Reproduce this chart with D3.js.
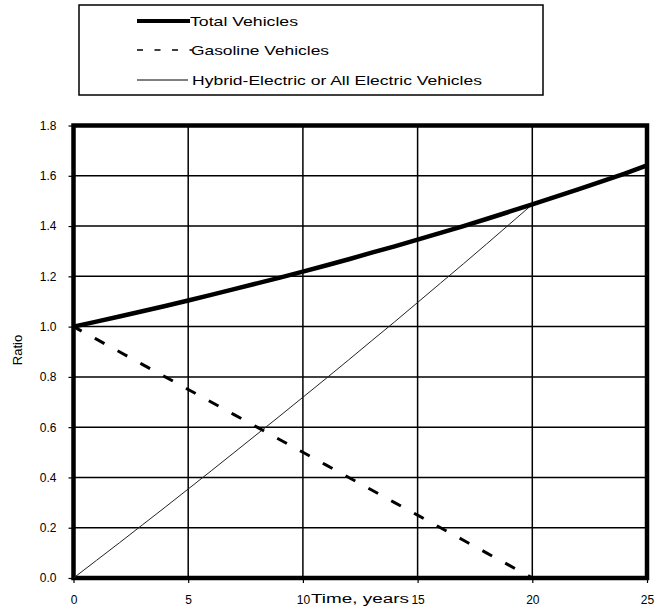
<!DOCTYPE html>
<html><head><meta charset="utf-8">
<script src="https://cdn.jsdelivr.net/npm/d3@7"></script>
<style>body{margin:0;background:#fff;} svg{display:block;font-family:"Liberation Sans",Arial,sans-serif;}</style>
</head><body>
<svg id="c" width="661" height="609"></svg>
<script>
const years = d3.range(0, 26);
const totalVehicles = [1.000,1.020,1.040,1.061,1.082,1.104,1.126,1.149,1.172,1.195,1.219,1.243,1.268,1.294,1.319,1.346,1.373,1.400,1.428,1.457,1.486,1.516,1.546,1.577,1.608,1.641];
const gasolineYears = d3.range(0, 21);
const gasolineVehicles = [1.00,0.95,0.90,0.85,0.80,0.75,0.70,0.65,0.60,0.55,0.50,0.45,0.40,0.35,0.30,0.25,0.20,0.15,0.10,0.05,0.00];
const hybridYears = d3.range(0, 21);
const hybridVehicles = [0.000,0.070,0.140,0.211,0.282,0.354,0.426,0.499,0.572,0.645,0.719,0.793,0.868,0.944,1.019,1.096,1.173,1.250,1.328,1.407,1.486];
const xTicks = [0,5,10,15,20,25];
const yTicks = [0,0.2,0.4,0.6,0.8,1.0,1.2,1.4,1.6,1.8];
const seriesNames = ["Total Vehicles","Gasoline Vehicles","Hybrid-Electric or All Electric Vehicles"];

const svg = d3.select("#c");
const x = d3.scaleLinear().domain([0,25]).range([73.5,647]);
const y = d3.scaleLinear().domain([0,1.8]).range([578,125.5]);

// grid
const g = svg.append("g");
g.selectAll(".hg").data(yTicks.slice(1,-1)).join("line")
  .attr("x1",x(0)).attr("x2",x(25)).attr("y1",d=>y(d)).attr("y2",d=>y(d))
  .attr("stroke","#000").attr("stroke-width",1.5);
g.selectAll(".vg").data(xTicks.slice(1,-1)).join("line")
  .attr("y1",y(0)).attr("y2",y(1.8)).attr("x1",d=>x(d)).attr("x2",d=>x(d))
  .attr("stroke","#000").attr("stroke-width",1.5);

// axes
const xAxis = d3.axisBottom(x).tickValues(xTicks).tickSize(5).tickPadding(12)
  .tickFormat(d3.format("d"));
const yAxis = d3.axisLeft(y).tickValues(yTicks).tickSize(5).tickPadding(12)
  .tickFormat(d3.format(".1f"));
const xa = svg.append("g").attr("transform",`translate(0,${y(0)})`).call(xAxis);
const ya = svg.append("g").attr("transform",`translate(${x(0)},0)`).call(yAxis);
[xa,ya].forEach(a=>{
  a.select(".domain").remove();
  a.selectAll("line").attr("stroke","#000").attr("stroke-width",1.2);
  a.selectAll("text").attr("fill","#000").style("font-size","12px");
});
xa.selectAll("text").attr("dy","0.75em");

// frame
svg.append("rect").attr("x",x(0)).attr("y",y(1.8)).attr("width",x(25)-x(0)).attr("height",y(0)-y(1.8))
  .attr("fill","none").attr("stroke","#000").attr("stroke-width",4.5);

// series
const line = d3.line().x(d=>x(d[0])).y(d=>y(d[1]));
svg.append("path").datum(hybridYears.map((t,i)=>[t,hybridVehicles[i]]))
  .attr("d",line).attr("fill","none").attr("stroke","#222").attr("stroke-width",1);
svg.append("path").datum(gasolineYears.map((t,i)=>[t,gasolineVehicles[i]]))
  .attr("d",line).attr("fill","none").attr("stroke","#000").attr("stroke-width",3)
  .attr("stroke-dasharray","11,15").attr("stroke-dashoffset",1.7);
svg.append("path").datum(years.map((t,i)=>[t,totalVehicles[i]]))
  .attr("d",line).attr("fill","none").attr("stroke","#000").attr("stroke-width",4.5);

// axis titles
svg.append("text").attr("x",311).attr("y",603).attr("text-anchor","start")
  .attr("textLength",98).attr("lengthAdjust","spacingAndGlyphs")
  .style("font-size","12px").text("Time, years");
svg.append("text").attr("transform","translate(22,350) rotate(-90)").attr("text-anchor","middle")
  .style("font-size","13px").text("Ratio");

// legend
const lg = svg.append("g");
lg.append("rect").attr("x",79).attr("y",5).attr("width",464).attr("height",90)
  .attr("fill","#fff").attr("stroke","#000").attr("stroke-width",1.5);
const ly = [21,50,80];
const tx = [190,191,192];
const tw = [108,138,290];
const styles = [{w:4,dash:null},{w:1.5,dash:"6,11.5"},{w:1,dash:null}];
seriesNames.forEach((n,i)=>{
  lg.append("line").attr("x1",137).attr("x2",[190,192,188][i]).attr("y1",ly[i]).attr("y2",ly[i])
    .attr("stroke","#000").attr("stroke-width",styles[i].w)
    .attr("stroke-dasharray",styles[i].dash);
  lg.append("text").attr("x",tx[i]).attr("y",ly[i]).attr("dy","0.35em")
    .attr("textLength",tw[i]).attr("lengthAdjust","spacingAndGlyphs")
    .style("font-size","13px").text(n);
});
</script>
</body></html>
